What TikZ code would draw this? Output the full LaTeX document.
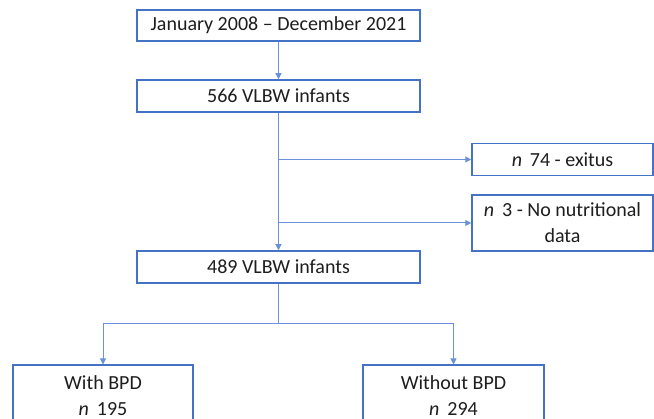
\documentclass[tikz,border=0pt]{standalone}
\usepackage{fontspec}
\setmainfont{Carlito}
\usetikzlibrary{arrows.meta}
\definecolor{boxblue}{HTML}{4472C4}
\definecolor{lineblue}{HTML}{6A92DA}
\definecolor{txt}{HTML}{1E1E1E}

\begin{document}
\begin{tikzpicture}[x=1pt,y=-1pt,
  box/.style={draw=boxblue,line width=1.5pt,fill=white,text=txt,inner sep=0pt,
    align=center,font=\fontsize{20}{26}\selectfont},
  link/.style={draw=lineblue,line width=1pt},
  arr/.style={link,-{Triangle[length=6pt,width=6pt]}}]
\useasboundingbox (0,0) rectangle (654,419);
\clip (0,0) rectangle (654,419);

% main column
\node[box,minimum width=283pt,minimum height=31pt] (period) at (278.5,25.5) {January 2008 -- December 2021};
\node[box,minimum width=283pt,minimum height=32pt] (all) at (278.5,96) {566 VLBW infants};
\node[box,minimum width=283pt,minimum height=32pt] (kept) at (278.5,267) {489 VLBW infants};

% exclusions
\node[box,minimum width=181pt,minimum height=32pt] (exitus) at (562.5,159.5) {\textit{n}\, 74 - exitus};
\node[box,minimum width=181pt,minimum height=56pt] (nodata) at (562.5,223) {\textit{n}\, 3 - No nutritional\\data};

% groups
\node[box,minimum width=180pt,minimum height=60pt,anchor=north] (bpd) at (103,364.5) {With BPD\\\textit{n}\, 195};
\node[box,minimum width=181pt,minimum height=60pt,anchor=north] (nobpd) at (453.5,364.5) {Without BPD\\\textit{n}\, 294};

\coordinate (split) at (278.5,324);

\draw[arr] (period) -- (all);
\draw[arr] (all) -- (kept);
\draw[arr] (all.south |- exitus) -- (exitus);
\draw[arr] (all.south |- nodata) -- (nodata);
\draw[link] (kept) -- (split);
\draw[arr] (split) -| (bpd);
\draw[arr] (split) -| (nobpd);

\end{tikzpicture}
\end{document}
